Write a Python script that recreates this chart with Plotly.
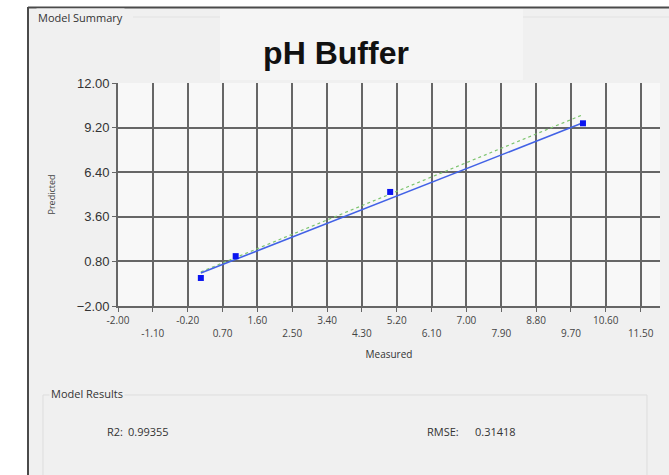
import plotly.graph_objects as go

# data
measured = [0.14, 1.04, 5.03, 10.01]
predicted = [-0.24, 1.13, 5.16, 9.47]
fit_x = [0.14, 10.01]
fit_y = [0.07, 9.50]
ideal_x = [0.14, 10.01]
ideal_y = [0.14, 10.01]

x_ticks = [-2.0, -1.1, -0.2, 0.7, 1.6, 2.5, 3.4, 4.3, 5.2, 6.1, 7.0, 7.9, 8.8, 9.7, 10.6, 11.5]
y_ticks = [-2.0, 0.8, 3.6, 6.4, 9.2, 12.0]

r2_text = "0.99355"
rmse_text = "0.31418"

W, H = 669, 475
# plot area in pixels
L, R, T, B = 118, 660, 83, 306


def px(x):
    return (x - L) / (R - L)


def py(y):
    return (B - y) / (B - T)


# staggered tick labels: odd ones go on a second row
x_ticktext = [("%.2f" % v) if i % 2 == 0 else "<br>%.2f" % v for i, v in enumerate(x_ticks)]

fig = go.Figure()

fig.add_trace(go.Scatter(x=ideal_x, y=ideal_y, mode="lines",
                         line=dict(color="#7cc46e", width=1.2, dash="dot"),
                         showlegend=False))
fig.add_trace(go.Scatter(x=fit_x, y=fit_y, mode="lines",
                         line=dict(color="#4262e6", width=1.6),
                         showlegend=False))
fig.add_trace(go.Scatter(x=measured, y=predicted, mode="markers",
                         marker=dict(symbol="square", size=6, color="#0a14f0"),
                         showlegend=False))

fig.update_xaxes(range=[-2, 12], tickvals=x_ticks, ticktext=x_ticktext,
                 showgrid=True, gridcolor="#666", gridwidth=1.6,
                 showline=True, linecolor="#666", linewidth=1.6,
                 ticks="outside", ticklen=4, tickcolor="#666",
                 tickfont=dict(family="Open Sans", size=10, color="#444"),
                 zeroline=False,
                 title=dict(text="Measured", standoff=12,
                            font=dict(family="Open Sans", size=10, color="#333")))
fig.update_yaxes(range=[-2, 12], tickvals=y_ticks, tickformat=".2f",
                 showgrid=True, gridcolor="#666", gridwidth=1.6,
                 showline=True, linecolor="#666", linewidth=1.6,
                 ticks="outside", ticklen=4, tickcolor="#666",
                 tickfont=dict(family="Liberation Sans", size=13, color="#333"),
                 zeroline=False,
                 title=dict(text="Predicted", standoff=20,
                            font=dict(family="Open Sans", size=9, color="#444")))

shapes = [
    # white outside the window
    dict(type="rect", x0=px(0), x1=px(28), y0=py(0), y1=py(H),
         fillcolor="white", line_width=0),
    dict(type="rect", x0=px(0), x1=px(W), y0=py(0), y1=py(7),
         fillcolor="white", line_width=0),
    # window border
    dict(type="line", x0=px(28), x1=px(W), y0=py(7.5), y1=py(7.5),
         line=dict(color="#4a4a4a", width=2)),
    dict(type="line", x0=px(28), x1=px(28), y0=py(7), y1=py(H),
         line=dict(color="#4a4a4a", width=2)),
    # lighter title area
    dict(type="rect", x0=px(220), x1=px(523), y0=py(9), y1=py(80),
         fillcolor="#f5f5f5", line_width=0),
    # faint group box line
    dict(type="line", x0=px(133), x1=px(220), y0=py(17), y1=py(17),
         line=dict(color="#e2e2e2", width=1)),
    dict(type="line", x0=px(523), x1=px(W), y0=py(17), y1=py(17),
         line=dict(color="#e2e2e2", width=1)),
    # Model Results group box
    dict(type="rect", x0=px(43), x1=px(647), y0=py(395), y1=py(H + 10),
         fillcolor="rgba(0,0,0,0)", line=dict(color="#dddddd", width=1)),
]

txt = dict(family="Open Sans", size=11, color="#333")
annotations = [
    dict(text="Model Summary", x=px(36), y=py(17), xanchor="left", yanchor="middle",
         bgcolor="#f0f0f0", font=txt),
    dict(text="Model Results", x=px(49), y=py(393), xanchor="left", yanchor="middle",
         bgcolor="#f0f0f0", font=txt),
    dict(text="R2:", x=px(105), y=py(432), xanchor="left", yanchor="middle", font=txt),
    dict(text=r2_text, x=px(126), y=py(432), xanchor="left", yanchor="middle", font=txt),
    dict(text="RMSE:", x=px(425), y=py(432), xanchor="left", yanchor="middle", font=txt),
    dict(text=rmse_text, x=px(473), y=py(432), xanchor="left", yanchor="middle", font=txt),
]
for a in annotations:
    a.update(xref="paper", yref="paper", showarrow=False)
for s in shapes:
    s.update(xref="paper", yref="paper", layer="below")

fig.update_layout(
    width=W, height=H,
    margin=dict(l=L, r=W - R, t=T, b=H - B),
    paper_bgcolor="#f0f0f0", plot_bgcolor="#f8f8f8",
    title=dict(text="<b>pH Buffer</b>", x=336 / W, y=1 - 53 / H,
               xanchor="center", yanchor="middle",
               font=dict(family="Liberation Sans", size=32, color="#111")),
    shapes=shapes, annotations=annotations,
)

# drop the default page margin so the figure fills the window
fig.write_html("out.html", config={"displayModeBar": False},
               post_script="document.body.style.margin = '0';")
